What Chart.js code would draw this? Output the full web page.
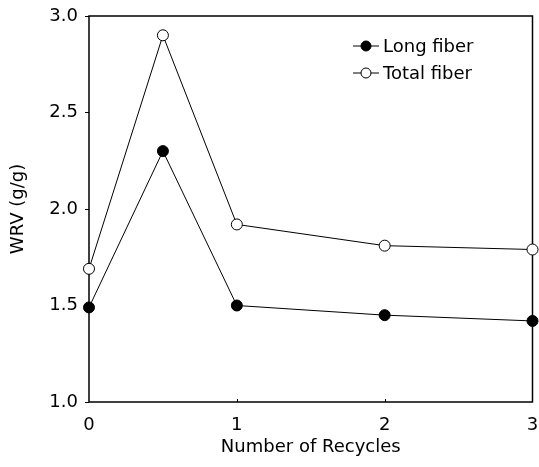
<!DOCTYPE html>
<html>
<head>
<meta charset="utf-8">
<script src="https://cdn.jsdelivr.net/npm/chart.js@4"></script>
<style>
  html, body { margin: 0; padding: 0; background: #fff; }
  #wrap { width: 539px; height: 467px; }
</style>
</head>
<body>
<div id="wrap"><canvas id="wrv" width="539" height="467"></canvas></div>
<script>
// values
let recycles = [0, 0.5, 1, 2, 3];
let longFiber = [1.49, 2.30, 1.50, 1.45, 1.42];
let totalFiber = [1.69, 2.90, 1.92, 1.81, 1.79];
let xTicks = [0, 1, 2, 3];
let yTicks = [1.0, 1.5, 2.0, 2.5, 3.0];

const FONT = "'DejaVu Sans', sans-serif";

function pairs(ys) {
  return recycles.map((x, i) => ({ x: x, y: ys[i] }));
}

// frame, inward x ticks and the legend
const framePlugin = {
  id: "frame",
  beforeDatasetsDraw(chart) {
    const ctx = chart.ctx, a = chart.chartArea;
    const xs = chart.scales.x;
    ctx.save();
    ctx.strokeStyle = "#000";
    ctx.lineWidth = 1.5;
    ctx.strokeRect(a.left, a.top, a.right - a.left, a.bottom - a.top);
    ctx.lineWidth = 1;
    xTicks.slice(1, -1).forEach(v => {
      const px = Math.round(xs.getPixelForValue(v)) + 0.5;
      ctx.beginPath();
      ctx.moveTo(px, a.bottom);
      ctx.lineTo(px, a.bottom - 3);
      ctx.stroke();
    });
    ctx.restore();
  },
  afterDraw(chart) {
    const ctx = chart.ctx;
    ctx.save();
    chart.data.datasets.forEach((ds, i) => {
      const y = 46 + i * 27;
      const cx = 366;
      ctx.strokeStyle = "#000";
      ctx.lineWidth = 1;
      ctx.beginPath();
      ctx.moveTo(353, y);
      ctx.lineTo(379, y);
      ctx.stroke();
      ctx.beginPath();
      ctx.arc(cx, y, 5, 0, Math.PI * 2);
      ctx.fillStyle = ds.pointBackgroundColor;
      ctx.fill();
      ctx.stroke();
      ctx.fillStyle = "#000";
      ctx.font = "18px " + FONT;
      ctx.textBaseline = "middle";
      ctx.textAlign = "left";
      ctx.fillText(ds.label, 383, y + 1);
    });
    ctx.restore();
  }
};

new Chart(document.getElementById("wrv"), {
  type: "line",
  data: {
    datasets: [{
      label: "Long fiber",
      data: pairs(longFiber),
      borderColor: "#000",
      borderWidth: 1,
      pointRadius: 5.5,
      pointBackgroundColor: "#000",
      pointBorderColor: "#000",
      pointBorderWidth: 1,
      tension: 0,
      clip: false
    }, {
      label: "Total fiber",
      data: pairs(totalFiber),
      borderColor: "#000",
      borderWidth: 1,
      pointRadius: 5.5,
      pointBackgroundColor: "#fff",
      pointBorderColor: "#000",
      pointBorderWidth: 1,
      tension: 0,
      clip: false
    }]
  },
  options: {
    responsive: false,
    animation: false,
    layout: { padding: { top: 16, right: 6, left: 0, bottom: 0 } },
    plugins: { legend: { display: false }, tooltip: { enabled: false } },
    scales: {
      x: {
        type: "linear",
        min: 0, max: 3,
        afterBuildTicks: s => { s.ticks = xTicks.map(v => ({ value: v })); },
        afterFit: s => { s.height = 65; s.paddingLeft = 0; s.paddingRight = 0; },
        border: { display: false },
        grid: { display: false },
        ticks: { color: "#000", padding: 5, maxRotation: 0, font: { family: FONT, size: 18 } },
        title: {
          display: true, text: "Number of Recycles", color: "#000",
          padding: { top: 0, bottom: 9 },
          font: { family: FONT, size: 18 }
        }
      },
      y: {
        min: 1, max: 3,
        afterBuildTicks: s => { s.ticks = yTicks.map(v => ({ value: v })); },
        afterFit: s => { s.width = 89; s.paddingTop = 0; s.paddingBottom = 0; },
        border: { display: false },
        grid: { drawOnChartArea: false, tickLength: 4, color: "#000" },
        ticks: {
          color: "#000", padding: 7,
          font: { family: FONT, size: 18 },
          callback: v => Number(v).toFixed(1)
        },
        title: {
          display: true, text: "WRV (g/g)", color: "#000",
          padding: { top: 8, bottom: 0 },
          font: { family: FONT, size: 18 }
        }
      }
    }
  },
  plugins: [framePlugin]
});
</script>
</body>
</html>
